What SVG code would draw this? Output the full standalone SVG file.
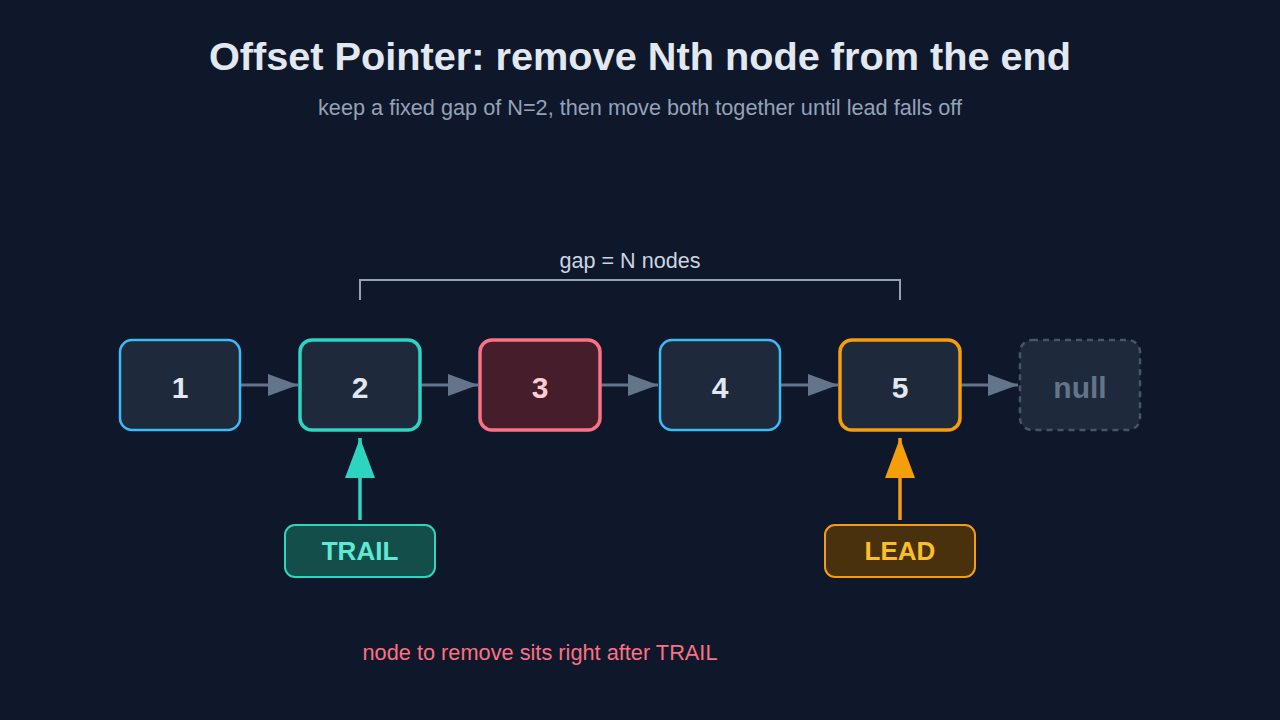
<svg xmlns="http://www.w3.org/2000/svg" width="1280" height="720" viewBox="0 0 1280 720">
<defs>
<style>
.bg{fill:#0f172a}
.node{fill:#1e293b;stroke-width:3}
.lbl{font-family:"Liberation Sans",Arial,sans-serif;font-weight:bold;font-size:30px;text-anchor:middle;fill:#e2e8f0}
.conn{stroke:#64748b;stroke-width:3;fill:none}
.title{font-family:"Liberation Sans",Arial,sans-serif;font-weight:bold;font-size:39.7px;text-anchor:middle;fill:#e2e8f0}
.sub{font-family:"Liberation Sans",Arial,sans-serif;font-size:21.7px;text-anchor:middle;fill:#94a3b8}
.ptr{font-family:"Liberation Sans",Arial,sans-serif;font-weight:bold;font-size:26px;text-anchor:middle}
</style>
<marker id="arr" viewBox="0 0 30 22" refX="30" refY="11" markerWidth="30" markerHeight="22" markerUnits="userSpaceOnUse" orient="auto">
<path d="M0,0 L30,11 L0,22 Z" fill="#64748b"/>
</marker>
<marker id="arrT" viewBox="0 0 40 30" refX="40" refY="15" markerWidth="40" markerHeight="30" markerUnits="userSpaceOnUse" orient="auto">
<path d="M0,0 L40,15 L0,30 Z" fill="#2dd4bf"/>
</marker>
<marker id="arrL" viewBox="0 0 40 30" refX="40" refY="15" markerWidth="40" markerHeight="30" markerUnits="userSpaceOnUse" orient="auto">
<path d="M0,0 L40,15 L0,30 Z" fill="#f59e0b"/>
</marker>
</defs>
<rect class="bg" x="0" y="0" width="1280" height="720"/>
<text class="title" x="640" y="70">Offset Pointer: remove Nth node from the end</text>
<text class="sub" x="640" y="115">keep a fixed gap of N=2, then move both together until lead falls off</text>

<g id="gap">
<path d="M360,300 V280 H900 V300" fill="none" stroke="#94a3b8" stroke-width="2"/>
<text x="630" y="268" font-family="Liberation Sans,Arial,sans-serif" font-size="21.6" text-anchor="middle" fill="#cbd5e1">gap = N nodes</text>
</g>

<g id="connectors">
<line class="conn" x1="240" y1="385" x2="298" y2="385" marker-end="url(#arr)"/>
<line class="conn" x1="420" y1="385" x2="478" y2="385" marker-end="url(#arr)"/>
<line class="conn" x1="600" y1="385" x2="658" y2="385" marker-end="url(#arr)"/>
<line class="conn" x1="780" y1="385" x2="838" y2="385" marker-end="url(#arr)"/>
<line class="conn" x1="960" y1="385" x2="1018" y2="385" marker-end="url(#arr)"/>
<line x1="360" y1="520" x2="360" y2="438" stroke="#2dd4bf" stroke-width="3.5" marker-end="url(#arrT)"/>
<line x1="900" y1="520" x2="900" y2="438" stroke="#f59e0b" stroke-width="3.5" marker-end="url(#arrL)"/>
</g>

<g id="node1">
<rect class="node" x="120" y="340" width="120" height="90" rx="12" stroke="#38bdf8" style="stroke-width:2.5"/>
<text class="lbl" x="180" y="398">1</text>
</g>
<g id="node2">
<rect class="node" x="300" y="340" width="120" height="90" rx="12" stroke="#2dd4bf" style="stroke-width:3.5"/>
<text class="lbl" x="360" y="398">2</text>
</g>
<g id="node3">
<rect class="node" x="480" y="340" width="120" height="90" rx="12" stroke="#fb7185" style="fill:#451d2b;stroke-width:3.5"/>
<text class="lbl" x="540" y="398" style="fill:#fecdd3">3</text>
</g>
<g id="node4">
<rect class="node" x="660" y="340" width="120" height="90" rx="12" stroke="#38bdf8" style="stroke-width:2.5"/>
<text class="lbl" x="720" y="398">4</text>
</g>
<g id="node5">
<rect class="node" x="840" y="340" width="120" height="90" rx="12" stroke="#f59e0b" style="stroke-width:3.5"/>
<text class="lbl" x="900" y="398">5</text>
</g>
<g id="nodeNull">
<rect class="node" x="1020" y="340" width="120" height="90" rx="12" stroke="#475569" stroke-dasharray="6 5" style="stroke-width:2.5"/>
<text class="lbl" x="1080" y="398" style="fill:#64748b">null</text>
</g>

<g id="trail">
<rect x="285" y="525" width="150" height="52" rx="10" fill="#134e4a" stroke="#2dd4bf" stroke-width="2"/>
<text class="ptr" x="360" y="560" fill="#5eead4">TRAIL</text>
</g>
<g id="lead">
<rect x="825" y="525" width="150" height="52" rx="10" fill="#4a310e" stroke="#f59e0b" stroke-width="2"/>
<text class="ptr" x="900" y="560" fill="#fbbf24">LEAD</text>
</g>

<text x="540" y="660" font-family="Liberation Sans,Arial,sans-serif" font-size="21.75" text-anchor="middle" fill="#fb7185">node to remove sits right after TRAIL</text>
</svg>
